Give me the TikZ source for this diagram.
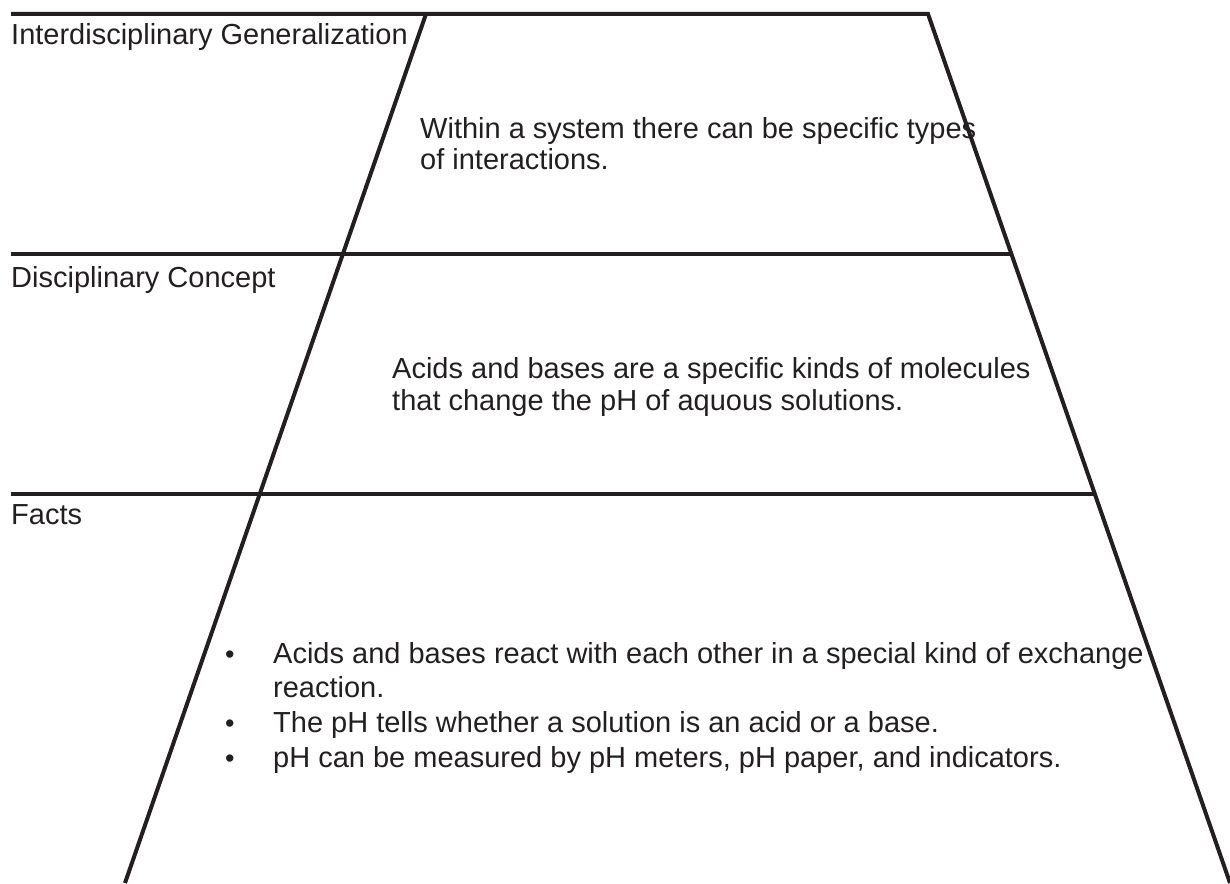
\documentclass[tikz,border=0pt]{standalone}
\usepackage{fontspec}
\setmainfont{Liberation Sans}
\definecolor{ink}{HTML}{231F20}
\begin{document}
\begin{tikzpicture}[x=1pt,y=-1pt,
  rule/.style={draw=ink,line width=4pt},
  label/.style={anchor=base west,inner sep=0pt,text=ink,font=\fontsize{29}{35}\selectfont},
  body/.style={anchor=base west,inner sep=0pt,text=ink,font=\fontsize{29}{35}\selectfont},
  bul/.style={anchor=base west,inner sep=0pt,text=ink,font=\fontsize{27}{34}\selectfont}]
\useasboundingbox (0,0) rectangle (1230,883);
% frame coordinates
\coordinate (TL) at (11,14);
\coordinate (TR) at (928,14);
\coordinate (BR) at (1230,883);
\coordinate (LT) at (426,14);
\coordinate (LB) at (125,883);
\coordinate (ML) at (11,254);
\coordinate (MR) at (1011,254);
\coordinate (FL) at (11,494);
\coordinate (FR) at (1095,494);
\draw[rule,line join=miter] (TL) -- (TR) -- (BR);
\draw[rule] (LT) -- (LB);
\draw[rule] (ML) -- (MR);
\draw[rule] (FL) -- (FR);
% labels
\node[label] (lig) at (11,45) {Interdisciplinary Generalization};
\node[label] (ldc) at (11,287) {Disciplinary Concept};
\node[label] (lfa) at (11,524) {Facts};
% texts
\node[body] (w1) at (420,138) {Within a system there can be specific types};
\node[body] (w2) at (420,169) {of interactions.};
\node[body] (a1) at (392,378) {Acids and bases are a specific kinds of molecules};
\node[body] (a2) at (392,410) {that change the pH of aquous solutions.};
\node[bul] (b1) at (225,663) {•};
\node[body] (f1) at (273,663) {Acids and bases react with each other in a special kind of exchange};
\node[body] (f1b) at (273,697) {reaction.};
\node[bul] (b2) at (225,732) {•};
\node[body] (f2) at (273,732) {The pH tells whether a solution is an acid or a base.};
\node[bul] (b3) at (225,767) {•};
\node[body] (f3) at (273,767) {pH can be measured by pH meters, pH paper, and indicators.};
\end{tikzpicture}
\end{document}
